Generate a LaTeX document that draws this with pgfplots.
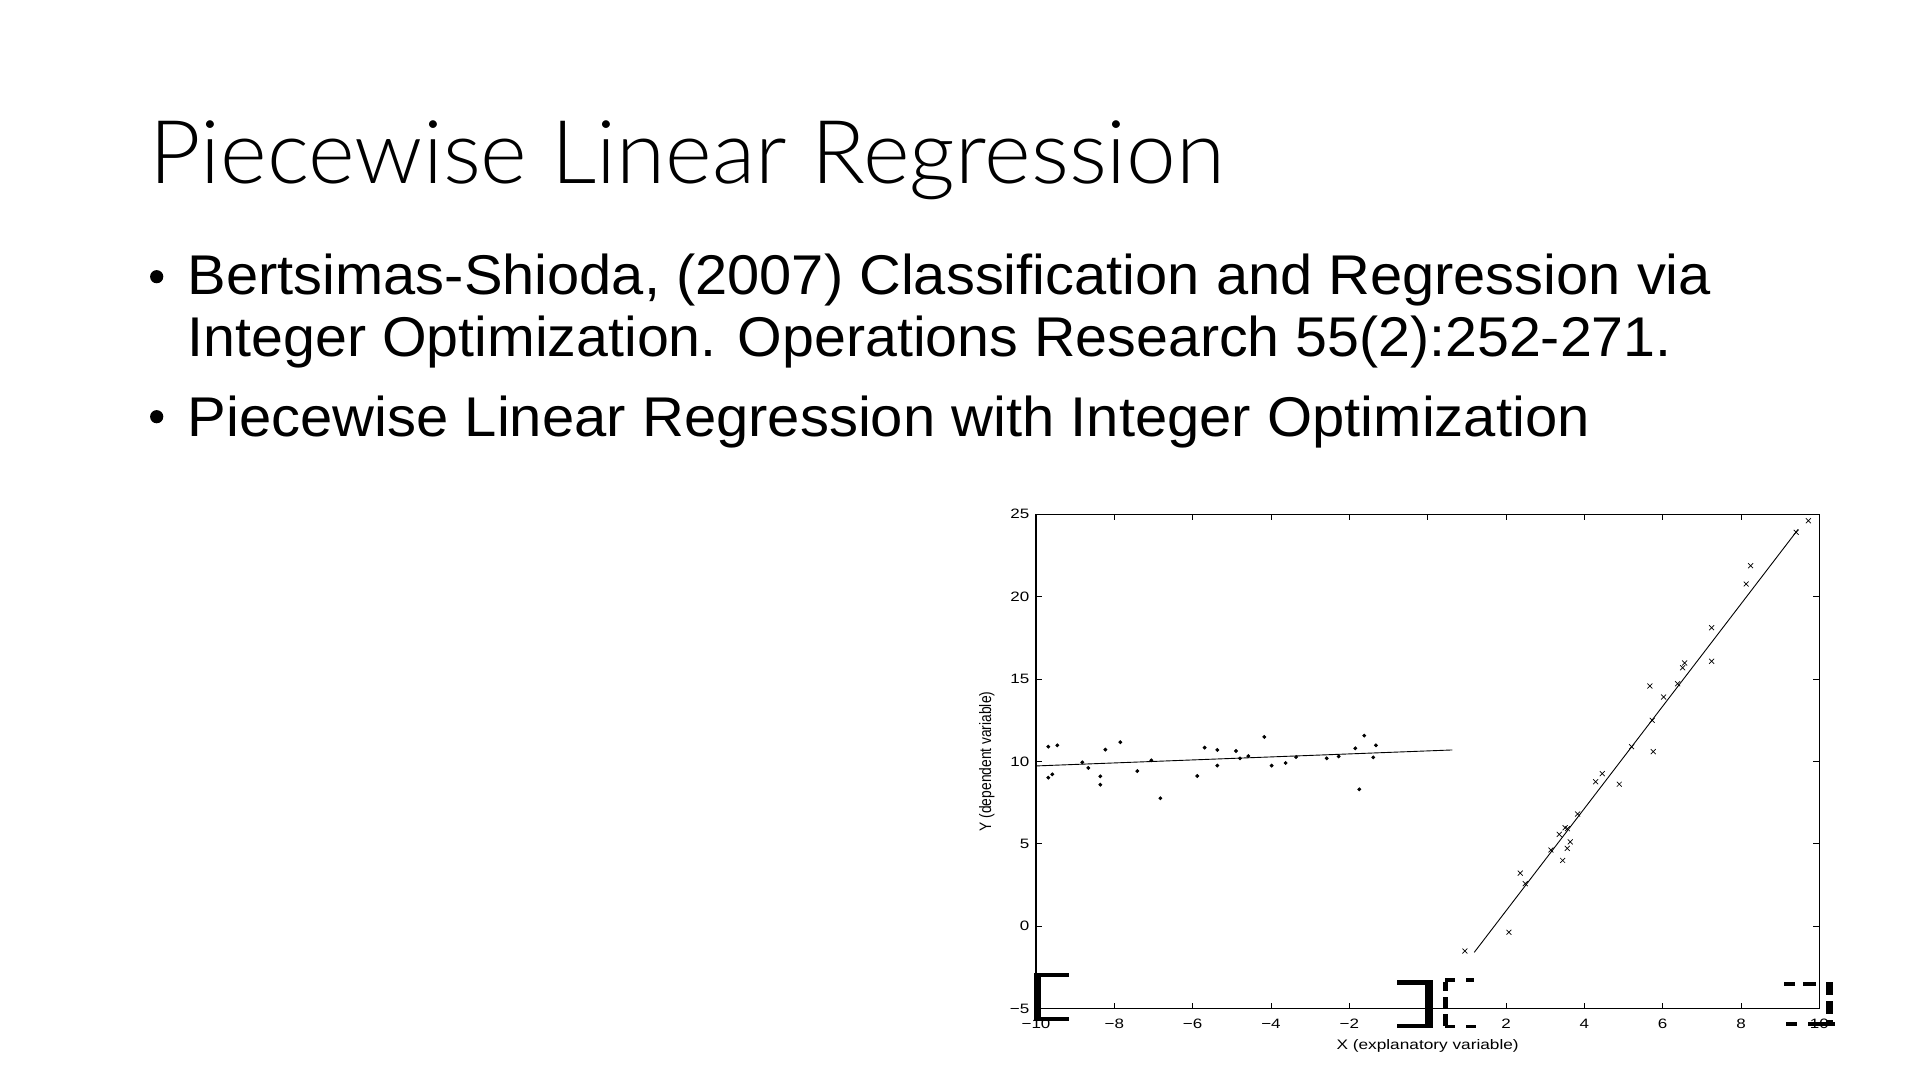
\documentclass[border=0pt]{standalone}
\usepackage{fontspec}
\setmainfont{Liberation Sans}
\IfFontExistsTF{Lato Light}{\newfontfamily\titlefont{Lato Light}}{\newfontfamily\titlefont{Lato}}
\usepackage{graphicx}
\usepackage{pgfplots}
\pgfplotsset{compat=1.18}

\pgfplotstableread{
x y
-9.686 10.90
-9.686 9.02
-9.584 9.22
-9.456 10.98
-8.818 9.95
-8.665 9.61
-8.358 9.10
-8.358 8.59
-8.230 10.72
-7.848 11.17
-7.414 9.42
-7.056 10.07
-6.826 7.77
-5.882 9.12
-5.694 10.84
-5.371 10.70
-5.371 9.75
-4.894 10.64
-4.792 10.19
-4.580 10.33
-4.171 11.49
-3.983 9.75
-3.626 9.91
-3.360 10.27
-2.578 10.19
-2.272 10.31
-1.848 10.80
-1.746 8.31
-1.618 11.57
-1.389 10.25
-1.320 10.98
}\leftdata

\pgfplotstableread{
x y
9.720 24.61
9.410 23.91
8.245 21.88
8.134 20.77
7.250 18.12
7.250 16.08
6.561 15.98
6.510 15.69
6.382 14.72
5.675 14.58
6.024 13.91
5.734 12.50
5.207 10.90
5.760 10.60
4.458 9.26
4.289 8.77
4.892 8.62
3.829 6.81
3.510 5.98
3.570 5.92
3.360 5.58
3.640 5.12
3.565 4.73
3.148 4.63
3.446 4.00
2.364 3.23
2.492 2.59
2.076 -0.36
0.952 -1.50
}\rightdata

\begin{document}
\begin{tikzpicture}
\path[use as bounding box, fill=white] (0,0) rectangle (960bp,540bp);

% title
\node[anchor=base west, inner sep=0pt] at (74.5bp,448bp)
  {\resizebox{537.8bp}{\height}{\titlefont\fontsize{44bp}{52bp}\selectfont Piecewise Linear Regression}};

% bullets
\fill (78.35bp,401.65bp) circle (3.3bp);
\fill (78.35bp,331.65bp) circle (3.3bp);
\node[anchor=base west, inner sep=0pt] at (93.7bp,392.5bp)
  {\resizebox{761.7bp}{\height}{\fontsize{28bp}{34bp}\selectfont Bertsimas-Shioda, (2007) Classification and Regression via}};
\node[anchor=base west, inner sep=0pt] at (93.7bp,361.65bp)
  {\resizebox{742bp}{\height}{\fontsize{28bp}{34bp}\selectfont Integer Optimization. Operations Research 55(2):252-271.}};
\node[anchor=base west, inner sep=0pt] at (93.7bp,321.65bp)
  {\resizebox{701bp}{\height}{\fontsize{28bp}{34bp}\selectfont Piecewise Linear Regression with Integer Optimization}};

\begin{axis}[
  at={(518bp,35.65bp)}, anchor=south west,
  width=391.65bp, height=247.2bp, scale only axis,
  xmin=-10, xmax=10, ymin=-5, ymax=25,
  xtick={-10,-8,-6,-4,-2,0,2,4,6,8,10},
  xticklabels={−10,−8,−6,−4,−2,,2,4,6,8,10},
  ytick={-5,0,5,10,15,20,25},
  yticklabels={−5,0,5,10,15,20,25},
  tick align=inside, major tick length=3bp,
  tick style={black, line width=0.4bp},
  axis line style={black, line width=0.5bp},
  ticklabel style={font=\fontsize{6.8bp}{8bp}\selectfont, xscale=1.25},
  xticklabel style={yshift=-1.6bp},
  yticklabel style={xshift=0.8bp},
  xlabel={X (explanatory variable)},
  ylabel={Y (dependent variable)},
  label style={font=\fontsize{6.9bp}{8bp}\selectfont},
  xlabel style={at={(axis description cs:0.5,-0.0754)}, anchor=center, xscale=1.25},
  ylabel style={at={(axis description cs:-0.0629,0.5)}, anchor=center, yscale=1.2},
  clip=false,
]
\addplot[only marks, mark=*, mark size=0.75bp, black] table {\leftdata};
\addplot[only marks, mark=x, mark size=1.75bp, black, mark options={line width=0.35bp}] table {\rightdata};
\addplot[black, line width=0.45bp] coordinates {(-10,9.73) (0.63,10.70)};
\addplot[black, line width=0.45bp] coordinates {(1.19,-1.58) (9.46,24.09)};
\draw[black, line width=1bp] (rel axis cs:0,0) -- (rel axis cs:0,1);
\end{axis}

% bracket artefacts
% solid [
\fill[black] (517bp,29.35bp) rectangle (520.5bp,53.65bp);
\fill[black] (517bp,51.35bp) rectangle (534.5bp,53.65bp);
\fill[black] (517bp,29.35bp) rectangle (534.5bp,31.5bp);
% solid ]
\fill[black] (712.5bp,25.85bp) rectangle (716.35bp,49.85bp);
\fill[black] (698.65bp,47.65bp) rectangle (716.35bp,49.85bp);
\fill[black] (698.65bp,25.85bp) rectangle (716.35bp,28.15bp);
% dashed [
\fill[black] (721.35bp,44.5bp) rectangle (723.85bp,49bp);
\fill[black] (721.35bp,36bp) rectangle (723.85bp,41.5bp);
\fill[black] (721.35bp,27bp) rectangle (723.85bp,33bp);
\fill[black] (722.5bp,49.15bp) rectangle (727.5bp,50.85bp);
\fill[black] (732.85bp,49.15bp) rectangle (737bp,50.85bp);
\fill[black] (722.5bp,25.85bp) rectangle (727.5bp,27.5bp);
\fill[black] (732.85bp,25.85bp) rectangle (738bp,27.5bp);
% dashed ]
\fill[black] (892bp,47bp) rectangle (897.5bp,49bp);
\fill[black] (901.65bp,47bp) rectangle (908bp,49bp);
\fill[black] (912.85bp,42.5bp) rectangle (916.65bp,49bp);
\fill[black] (912.85bp,33bp) rectangle (916.65bp,39.5bp);
\fill[black] (912.85bp,27.5bp) rectangle (916.65bp,30bp);
\fill[black] (892.85bp,27bp) rectangle (898.35bp,29.15bp);
\fill[black] (904bp,27bp) rectangle (917.5bp,29.15bp);
\end{tikzpicture}
\end{document}
